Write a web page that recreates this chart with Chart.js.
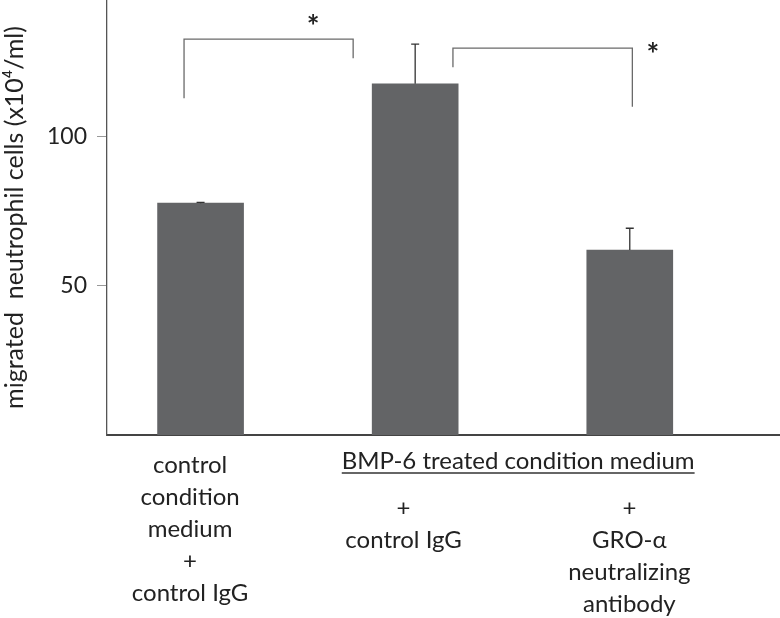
<!DOCTYPE html>
<html>
<head>
<meta charset="utf-8">
<script src="https://cdn.jsdelivr.net/npm/chart.js@4.4.0/dist/chart.umd.min.js"></script>
<style>
  html, body { margin: 0; padding: 0; background: #fff; }
  #wrap { width: 780px; height: 618px; }
</style>
</head>
<body>
<div id="wrap"><canvas id="chart" width="780" height="618"></canvas></div>
<script>
// bar data (x is the group position on a linear axis)
const positions = [1, 2, 3];
const means = [77.7, 117.7, 62.0];
const errors = [0.3, 13.3, 7.3];
const yTicks = [50, 100];

// significance brackets, in data units
const bracketLeft = [0.923, 2.176];
const bracketRight = [1.711, 3.012];
const bracketTop = [132.7, 129.7];
const bracketLeftEnd = [112.9, 123.3];
const bracketRightEnd = [126.3, 110.0];
const starX = [1.524, 3.108];
const starY = [138.8, 129.3];

// category labels drawn under the axis
const labelLines = [
    ['control', 'condition', 'medium', '+', 'control IgG'],
    ['+', 'control IgG'],
    ['+', 'GRO-\u03b1', 'neutralizing', 'antibody']
];
const labelX = [0.951, 1.946, 2.998];
const labelTop = [465, 508, 508];
const groupTitle = 'BMP-6 treated condition medium';
const groupTitleX = 2.48;

const FONT = 'Lato, "Open Sans", sans-serif';

const extrasPlugin = {
    id: 'extras',
    afterDatasetsDraw(chart) {
        const ctx = chart.ctx;
        const xs = chart.scales.x;
        const ys = chart.scales.y;
        ctx.save();

        // error bars (upper only)
        ctx.strokeStyle = '#333';
        ctx.lineWidth = 1.3;
        positions.forEach((p, i) => {
            const x = xs.getPixelForValue(p);
            const yTop = ys.getPixelForValue(means[i] + errors[i]);
            const yBar = ys.getPixelForValue(means[i]);
            ctx.beginPath();
            ctx.moveTo(x, yBar);
            ctx.lineTo(x, yTop);
            ctx.moveTo(x - 4, yTop);
            ctx.lineTo(x + 4, yTop);
            ctx.stroke();
        });

        // brackets
        ctx.strokeStyle = '#6a6a6a';
        ctx.lineWidth = 1.3;
        bracketLeft.forEach((l, i) => {
            const x1 = xs.getPixelForValue(l);
            const x2 = xs.getPixelForValue(bracketRight[i]);
            ctx.beginPath();
            ctx.moveTo(x1, ys.getPixelForValue(bracketLeftEnd[i]));
            ctx.lineTo(x1, ys.getPixelForValue(bracketTop[i]));
            ctx.lineTo(x2, ys.getPixelForValue(bracketTop[i]));
            ctx.lineTo(x2, ys.getPixelForValue(bracketRightEnd[i]));
            ctx.stroke();
        });

        ctx.fillStyle = '#222';
        ctx.font = 'bold 30px ' + FONT;
        ctx.textAlign = 'center';
        ctx.textBaseline = 'middle';
        starX.forEach((sx, i) => {
            ctx.fillText('*', xs.getPixelForValue(sx), ys.getPixelForValue(starY[i]) + 6);
        });

        // labels below the x axis
        ctx.font = '24px ' + FONT;
        ctx.fillStyle = '#222';
        labelLines.forEach((lines, i) => {
            const x = xs.getPixelForValue(labelX[i]);
            lines.forEach((t, j) => {
                ctx.fillText(t, x, labelTop[i] + j * 32);
            });
        });

        const gx = xs.getPixelForValue(groupTitleX);
        ctx.fillText(groupTitle, gx, 461);
        const w = ctx.measureText(groupTitle).width;
        ctx.beginPath();
        ctx.strokeStyle = '#333';
        ctx.lineWidth = 1.3;
        ctx.moveTo(gx - w / 2, 473);
        ctx.lineTo(gx + w / 2, 473);
        ctx.stroke();

        ctx.restore();
    }
};

new Chart(document.getElementById('chart'), {
    type: 'bar',
    data: {
        datasets: [{
            data: positions.map((p, i) => ({ x: p, y: means[i] })),
            backgroundColor: '#636466',
            borderWidth: 0,
            barThickness: 86
        }]
    },
    options: {
        responsive: false,
        animation: false,
        layout: { padding: 0 },
        plugins: {
            legend: { display: false },
            tooltip: { enabled: false }
        },
        scales: {
            x: {
                type: 'linear',
                offset: false,
                min: 0.564,
                max: 3.70,
                grid: { display: false },
                border: { display: true, color: '#444', width: 2 },
                ticks: { display: false },
                afterFit(scale) {
                    scale.height = 183;
                    scale.paddingLeft = 0;
                    scale.paddingRight = 0;
                }
            },
            y: {
                min: 0,
                max: 145.8,
                afterBuildTicks(scale) {
                    scale.ticks = yTicks.map(v => ({ value: v }));
                },
                grid: {
                    drawOnChartArea: false,
                    drawTicks: true,
                    tickLength: 10,
                    color: '#999'
                },
                border: { display: true, color: '#555', width: 1.3 },
                ticks: {
                    padding: 10,
                    color: '#222',
                    font: { family: FONT, size: 23 }
                },
                title: {
                    display: true,
                    text: 'migrated  neutrophil cells (x10\u2074/ml)',
                    color: '#222',
                    padding: 0,
                    font: { family: FONT, size: 25 }
                },
                afterFit(scale) {
                    scale.width = 107;
                    scale.paddingTop = 0;
                    scale.paddingBottom = 0;
                }
            }
        }
    },
    plugins: [extrasPlugin]
});
</script>
</body>
</html>
